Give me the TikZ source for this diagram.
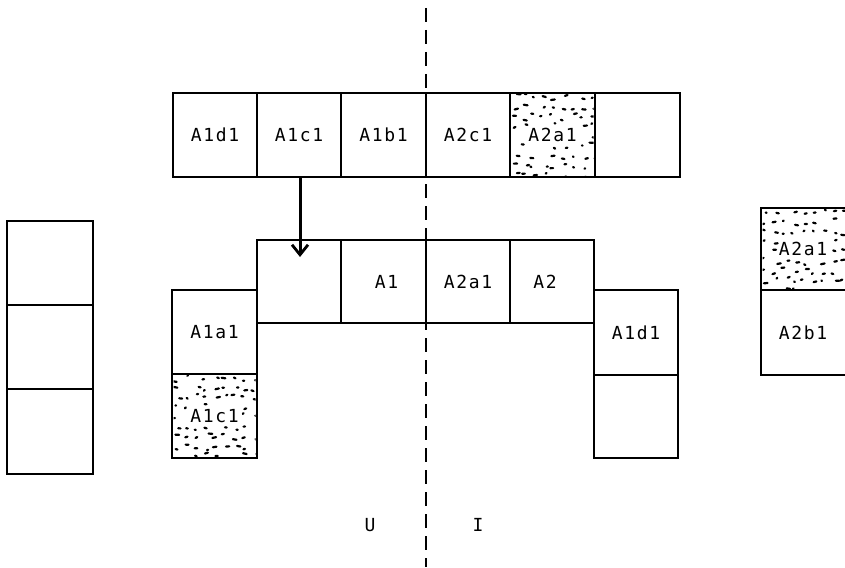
\documentclass[tikz,border=0pt]{standalone}
\usepackage{fontspec}
\newfontfamily\tw[LetterSpace=9]{DejaVu Sans Mono}
\usetikzlibrary{arrows.meta}
\newcommand\mkcell[6]{%
  \pgfmathsetmacro\cw{#4-#2}\pgfmathsetmacro\ch{#5-#3}%
  \node[cell, minimum width=\cw pt, minimum height=\ch pt] (#1) at ({(#2+#4)/2},{(#3+#5)/2}) {#6};}
\newcommand\stipple[4]{%
  \pgfmathsetmacro\scx{(#1+#3)/2}\pgfmathsetmacro\scy{(#2+#4)/2}%
  \begin{scope}
  \clip (#1+1.5,#2+1.5) rectangle (#3-1.5,#4-1.5);
  \foreach \i in {0,...,8}{
    \foreach \j in {0,...,8}{
      \pgfmathsetmacro\px{#1+4+\i*9.8+rand*3.4}
      \pgfmathsetmacro\py{#2+4+\j*9.8+rand*3.4}
      \pgfmathsetmacro\dl{0.6+3.2*rnd}
      \pgfmathsetmacro\dy{1.0*rand}
      \pgfmathtruncatemacro\keepdot{(abs(\px-\scx)>27 || abs(\py-\scy)>10) && (rnd>0.12)}
      \ifnum\keepdot=1
        \draw[dotstyle] (\px,\py) -- ++(\dl,\dy);
      \fi
    }
  }
  \end{scope}}
\begin{document}
\begin{tikzpicture}[x=1pt,y=-1pt,
  cell/.style={draw, line width=1.5pt, inner sep=0pt, font=\tw\fontsize{18}{20}\selectfont},
  lbl/.style={inner sep=0pt, font=\tw\fontsize{18}{20}\selectfont},
  dotstyle/.style={line width=2.2pt, line cap=round},
  divider/.style={line width=1.3pt, dash pattern=on 14pt off 8pt},
  arr/.style={line width=3pt, -{Straight Barb[length=10pt,width=16pt,line width=2.8pt]}}]
\useasboundingbox (0,0) rectangle (845,567);
\pgfmathsetseed{4711}
% stippled cells
\stipple{510}{93}{595}{177}
\stipple{172}{374}{257}{458}
\stipple{761}{208}{850}{290}
% divider
\coordinate (dtop) at (426,8);
\coordinate (dbot) at (426,567);
\draw[divider] (dtop) -- (dbot);
% top row
\mkcell{t1}{173}{93}{257}{177}{A1d1}
\mkcell{t2}{257}{93}{341}{177}{A1c1}
\mkcell{t3}{341}{93}{426}{177}{A1b1}
\mkcell{t4}{426}{93}{510}{177}{A2c1}
\mkcell{t5}{510}{93}{595}{177}{A2a1}
\mkcell{t6}{595}{93}{680}{177}{}
% second row
\mkcell{s1}{257}{240}{341}{323}{}
\mkcell{s2}{341}{240}{426}{323}{\hspace*{6pt}A1}
\mkcell{s3}{426}{240}{510}{323}{A2a1}
\mkcell{s4}{510}{240}{594}{323}{A2\hspace*{14pt}}
% left column
\mkcell{l1}{172}{290}{257}{374}{A1a1}
\mkcell{l2}{172}{374}{257}{458}{A1c1}
% right column
\mkcell{r1}{594}{290}{678}{375}{A1d1}
\mkcell{r2}{594}{375}{678}{458}{}
% left separate column
\mkcell{a1}{7}{221}{93}{305}{}
\mkcell{a2}{7}{305}{93}{389}{}
\mkcell{a3}{7}{389}{93}{474}{}
% right separate column
\mkcell{b1}{761}{208}{850}{290}{\hspace*{-5pt}A2a1}
\mkcell{b2}{761}{290}{850}{375}{\hspace*{-5pt}A2b1}
% arrow
\coordinate (arrE) at (300,257);
\draw[arr] (t2.south -| arrE) -- (arrE);
% labels
\node[lbl] (u) at (370,525) {U};
\node[lbl] (i) at (478,525) {I};
\end{tikzpicture}
\end{document}
